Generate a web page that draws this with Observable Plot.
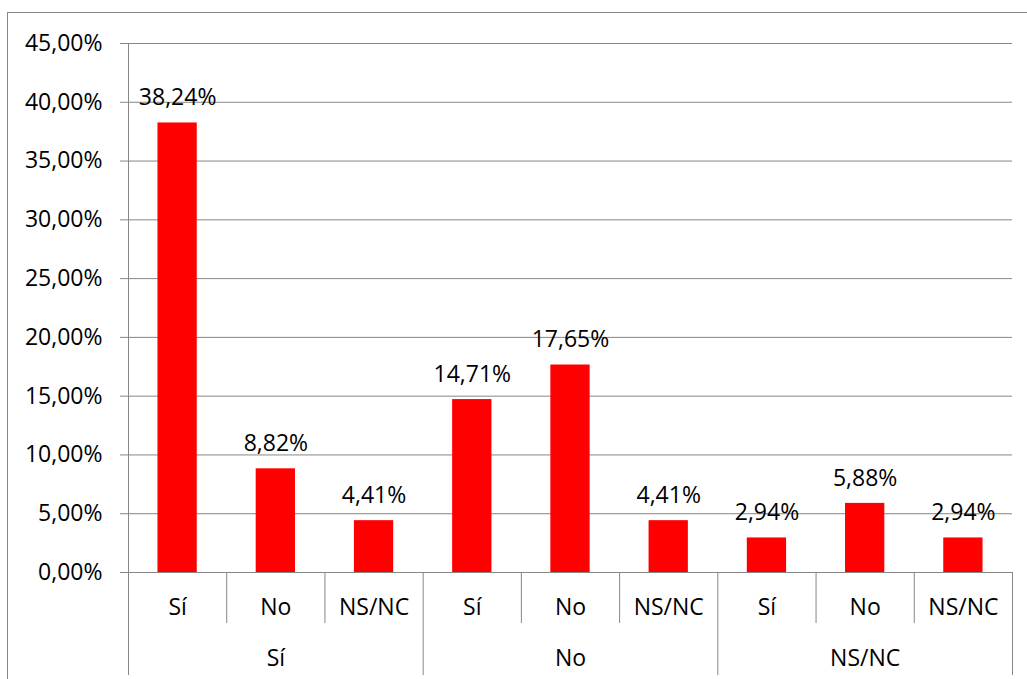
<!DOCTYPE html>
<html>
<head>
<meta charset="utf-8">
<script src="https://cdn.jsdelivr.net/npm/d3@7"></script>
<script src="https://cdn.jsdelivr.net/npm/@observablehq/plot@0.6"></script>
<style>
  html, body { margin: 0; padding: 0; background: #fff; }
  #wrap { position: relative; width: 1027px; height: 679px; overflow: hidden; }
  #frame { position: absolute; left: 7px; top: 12px; width: 1100px; height: 800px;
           border-left: 1.5px solid #868686; border-top: 1.5px solid #868686; pointer-events: none; }
  svg { font-family: "Open Sans", sans-serif; }
</style>
</head>
<body>
<div id="wrap"><div id="frame"></div></div>
<script>
const groups = ["Sí", "No", "NS/NC"];
const answers = ["Sí", "No", "NS/NC"];
const values = [38.24, 8.82, 4.41, 14.71, 17.65, 4.41, 2.94, 5.88, 2.94];
const yTicks = [0, 5, 10, 15, 20, 25, 30, 35, 40, 45];

const rows = [];
groups.forEach((g, gi) => answers.forEach((a, ai) => {
  const i = gi * answers.length + ai;
  rows.push({group: g, answer: a, value: values[i], i});
}));
const n = rows.length;
const innerBounds = rows.map(d => d.i).filter(i => i > 0 && i % answers.length !== 0);
const groupBounds = d3.range(1, groups.length + 1).map(k => k * answers.length);
const groupRows = groups.map((g, gi) => ({group: g, mid: gi * answers.length + answers.length / 2}));

const fmt = v => v.toFixed(2).replace(".", ",") + "%";
const gray = "#868686";
const fs = 23;

const chart = Plot.plot({
  width: 1027,
  height: 679,
  marginTop: 43,
  marginLeft: 128,
  marginRight: 15,
  marginBottom: 107,
  style: {fontFamily: "'Open Sans', sans-serif", fontSize: fs + "px", color: "#000", background: "transparent"},
  x: {type: "linear", domain: [0, n], axis: null},
  y: {domain: [0, 45], axis: null},
  marks: [
    Plot.gridY(yTicks, {stroke: gray, strokeOpacity: 1, strokeWidth: 1}),
    Plot.axisY(yTicks, {label: null, tickSize: 8, tickPadding: 18, tickFormat: fmt, stroke: gray, strokeOpacity: 1, fill: "#000", fontSize: fs}),
    Plot.rectY(rows, {x1: d => d.i + 0.3, x2: d => d.i + 0.7, y: "value", fill: "#ff0000"}),
    Plot.ruleY([0], {stroke: gray, strokeWidth: 1}),
    Plot.ruleX([0], {y1: 45, y2: 0, insetBottom: -103, stroke: gray, strokeWidth: 1}),
    Plot.ruleX(innerBounds, {y1: 0, y2: 0, insetBottom: -51, stroke: gray, strokeWidth: 1}),
    Plot.ruleX(groupBounds, {y1: 0, y2: 0, insetBottom: -103, stroke: gray, strokeWidth: 1}),
    Plot.text(rows, {x: d => d.i + 0.5, y: "value", text: d => fmt(d.value), dy: -25, fill: "#000", fontSize: fs}),
    Plot.text(rows, {x: d => d.i + 0.5, y: 0, text: "answer", dy: 35, fill: "#000", fontSize: fs}),
    Plot.text(groupRows, {x: "mid", y: 0, text: "group", dy: 86, fill: "#000", fontSize: fs})
  ]
});
chart.style.position = "absolute";
chart.style.left = "0px";
chart.style.top = "0px";
document.getElementById("wrap").appendChild(chart);
</script>
</body>
</html>
